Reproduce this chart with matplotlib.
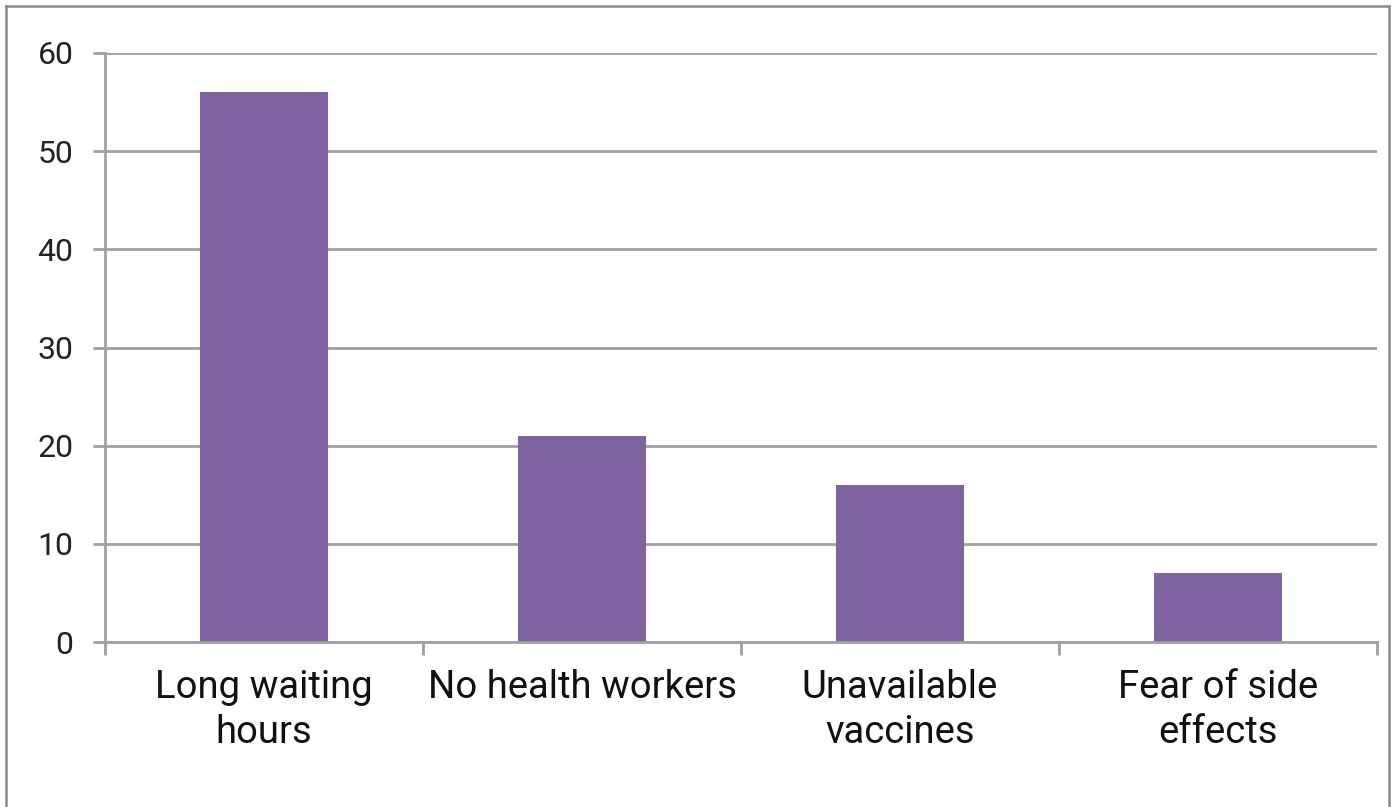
import matplotlib
matplotlib.use("Agg")
import matplotlib.pyplot as plt
from matplotlib.lines import Line2D

categories = ["Long waiting\nhours", "No health workers", "Unavailable\nvaccines", "Fear of side\neffects"]
values = [56, 21, 16, 7]
yticks = [0, 10, 20, 30, 40, 50, 60]

plt.rcParams['font.family'] = ['Roboto', 'DejaVu Sans']

W, H = 1395, 807
fig = plt.figure(figsize=(W / 100, H / 100), dpi=100)
ax = fig.add_axes([105 / W, 1 - 642 / H, (1377 - 105) / W, (642 - 53) / H])

grid_c = "#a0a0a0"
bar_c = "#8064a2"

x = list(range(len(categories)))
ax.bar(x, values, width=0.4, color=bar_c, zorder=3)
ax.set_xlim(-0.5, len(categories) - 0.5)
ax.set_ylim(0, 60)
ax.set_yticks(yticks)
ax.set_yticklabels([str(v) for v in yticks], fontsize=23, color="#222222")
ax.yaxis.grid(True, color=grid_c, linewidth=2, zorder=0)
ax.tick_params(axis="y", length=8.6, width=2, color=grid_c, pad=14)

# category boundaries carry the tick marks; labels sit at the centres
ax.set_xticks([i - 0.5 for i in range(len(categories) + 1)])
ax.set_xticklabels([])
ax.tick_params(axis="x", length=9.5, width=2, color=grid_c)
for i, lab in enumerate(categories):
    ax.text(i, -2.75, lab, ha="center", va="top", fontsize=27.5, color="#111111",
            linespacing=1.27)

for s in ["top", "right"]:
    ax.spines[s].set_visible(False)
for s in ["left", "bottom"]:
    ax.spines[s].set_color(grid_c)
    ax.spines[s].set_linewidth(2)
ax.spines["bottom"].set_zorder(4)

# outer frame around the chart area
fx0, fx1, fy1 = 6 / W, 1389 / W, 1 - 6 / H
for xs, ys in [([fx0, fx0], [-0.01, fy1]), ([fx0, fx1], [fy1, fy1]), ([fx1, fx1], [fy1, -0.01])]:
    fig.add_artist(Line2D(xs, ys, transform=fig.transFigure, color="#8a8a8a", linewidth=1.8))

fig.savefig("out.png", dpi=100)
